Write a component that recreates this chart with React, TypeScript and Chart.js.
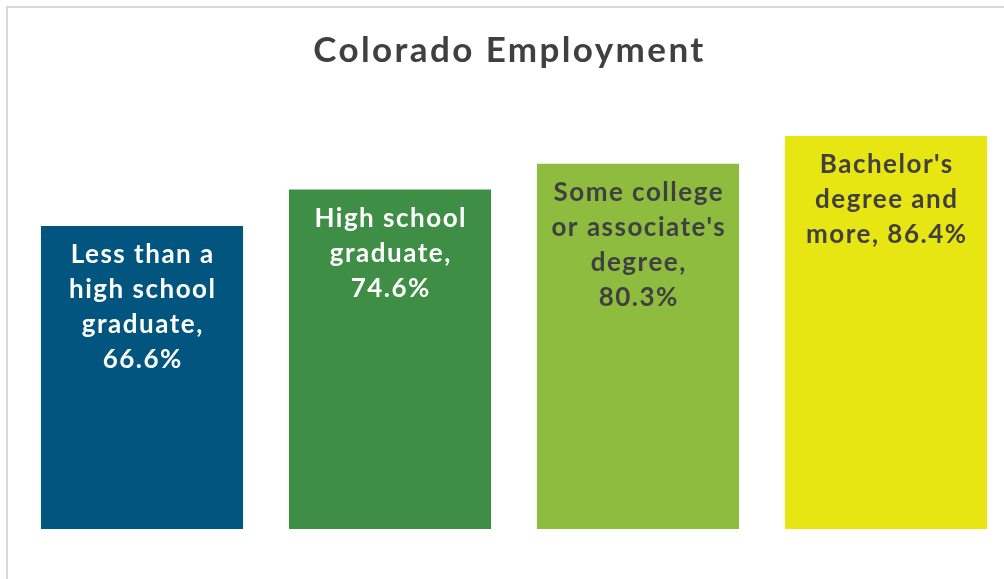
import React, { useEffect, useRef } from "react";
import { Chart, registerables } from "chart.js";

Chart.register(...registerables);

const title = "Colorado Employment";
const categories = [
  "Less than a high school graduate",
  "High school graduate",
  "Some college or associate's degree",
  "Bachelor's degree and more",
];
const values = [66.6, 74.6, 80.3, 86.4];
// Wrapped label layout per bar ({v} is replaced by the value)
const labelLayouts = [
  "Less than a\nhigh school\ngraduate,\n{v}",
  "High school\ngraduate,\n{v}",
  "Some college\nor associate's\ndegree,\n{v}",
  "Bachelor's\ndegree and\nmore, {v}",
];
const barColors = ["#01557F", "#3E8E46", "#8DBC3F", "#E8E612"];
const labelColors = ["#FFFFFF", "#FFFFFF", "#404040", "#404040"];

const FONT = "Lato, 'Open Sans', sans-serif";

const spacingPlugin = {
  id: "titleSpacing",
  beforeDraw(chart: any) {
    chart.ctx.letterSpacing = "2.4px";
  },
  beforeDatasetsDraw(chart: any) {
    chart.ctx.letterSpacing = "0px";
  },
};

const barLabelPlugin = {
  id: "barLabels",
  afterDatasetsDraw(chart: any) {
    const ctx = chart.ctx;
    const meta = chart.getDatasetMeta(0);
    ctx.save();
    ctx.font = `bold 26px ${FONT}`;
    ctx.letterSpacing = "1.5px";
    ctx.textAlign = "center";
    ctx.textBaseline = "alphabetic";
    meta.data.forEach((bar: any, i: number) => {
      const lines = labelLayouts[i]
        .replace("{v}", values[i].toFixed(1) + "%")
        .split("\n");
      ctx.fillStyle = labelColors[i];
      lines.forEach((line: string, j: number) => {
        ctx.fillText(line, bar.x + 0.75, bar.y + 37 + j * 35);
      });
    });
    ctx.restore();
  },
};

export default function App() {
  const ref = useRef<HTMLCanvasElement>(null);
  useEffect(() => {
    if (!ref.current) return;
    const chart = new Chart(ref.current, {
      type: "bar",
      data: {
        labels: categories,
        datasets: [
          {
            data: values,
            backgroundColor: barColors,
            borderWidth: 0,
            categoryPercentage: 1,
            barPercentage: 0.815,
          },
        ],
      },
      options: {
        responsive: false,
        animation: false,
        layout: { padding: { left: 9, right: 20, top: 0, bottom: 50 } },
        plugins: {
          legend: { display: false },
          tooltip: { enabled: false },
          title: {
            display: true,
            text: title,
            color: "#404040",
            font: { family: FONT, size: 35, weight: "bold", lineHeight: 1.2 },
            padding: { top: 30, bottom: 2 },
          },
        },
        scales: {
          x: { display: false },
          y: {
            display: true,
            min: 0,
            max: 100,
            grid: { display: false },
            border: { display: false },
            ticks: { display: false },
            afterFit(axis: any) {
              axis.width = 9;
            },
          },
        },
      },
      plugins: [spacingPlugin, barLabelPlugin],
    });
    return () => chart.destroy();
  }, []);

  return (
    <div
      style={{
        position: "fixed",
        left: 0,
        top: 0,
        width: 1004,
        height: 579,
        overflow: "hidden",
        background: "#FFFFFF",
      }}
    >
      <div
        style={{
          position: "absolute",
          left: 6,
          top: 6,
          width: 1100,
          height: 700,
          border: "2px solid #D9D9D9",
          boxSizing: "border-box",
        }}
      />
      <canvas
        ref={ref}
        width={1030}
        height={579}
        style={{ position: "absolute", left: 0, top: 0, width: 1030, height: 579 }}
      />
    </div>
  );
}
